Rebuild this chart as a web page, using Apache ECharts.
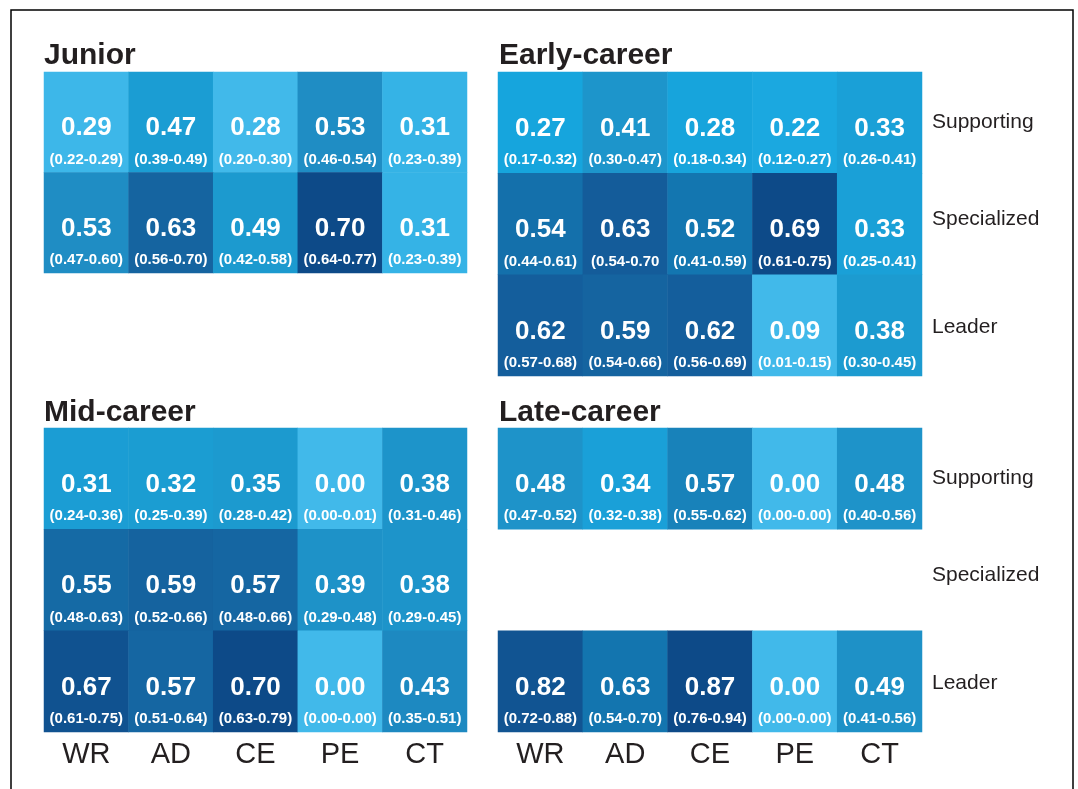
<!DOCTYPE html>
<html>
<head>
<meta charset="utf-8">
<script src="https://cdn.jsdelivr.net/npm/echarts@6/dist/echarts.min.js"></script>
<style>
html,body{margin:0;padding:0;background:#fff;}
#chart{width:1078px;height:789px;}
</style>
</head>
<body>
<div id="chart"></div>
<script>
const columns = ['WR', 'AD', 'CE', 'PE', 'CT'];
const roles = ['Supporting', 'Specialized', 'Leader'];
const panelTitles = ['Junior', 'Early-career', 'Mid-career', 'Late-career'];

// values per role row (null = no data)
const juniorValues = [
  [0.29, 0.47, 0.28, 0.53, 0.31],
  [0.53, 0.63, 0.49, 0.70, 0.31]
];
const juniorCI = [
  ['(0.22-0.29)', '(0.39-0.49)', '(0.20-0.30)', '(0.46-0.54)', '(0.23-0.39)'],
  ['(0.47-0.60)', '(0.56-0.70)', '(0.42-0.58)', '(0.64-0.77)', '(0.23-0.39)']
];
const earlyValues = [
  [0.27, 0.41, 0.28, 0.22, 0.33],
  [0.54, 0.63, 0.52, 0.69, 0.33],
  [0.62, 0.59, 0.62, 0.09, 0.38]
];
const earlyCI = [
  ['(0.17-0.32)', '(0.30-0.47)', '(0.18-0.34)', '(0.12-0.27)', '(0.26-0.41)'],
  ['(0.44-0.61)', '(0.54-0.70', '(0.41-0.59)', '(0.61-0.75)', '(0.25-0.41)'],
  ['(0.57-0.68)', '(0.54-0.66)', '(0.56-0.69)', '(0.01-0.15)', '(0.30-0.45)']
];
const midValues = [
  [0.31, 0.32, 0.35, 0.00, 0.38],
  [0.55, 0.59, 0.57, 0.39, 0.38],
  [0.67, 0.57, 0.70, 0.00, 0.43]
];
const midCI = [
  ['(0.24-0.36)', '(0.25-0.39)', '(0.28-0.42)', '(0.00-0.01)', '(0.31-0.46)'],
  ['(0.48-0.63)', '(0.52-0.66)', '(0.48-0.66)', '(0.29-0.48)', '(0.29-0.45)'],
  ['(0.61-0.75)', '(0.51-0.64)', '(0.63-0.79)', '(0.00-0.00)', '(0.35-0.51)']
];
const lateValues = [
  [0.48, 0.34, 0.57, 0.00, 0.48],
  null,
  [0.82, 0.63, 0.87, 0.00, 0.49]
];
const lateCI = [
  ['(0.47-0.52)', '(0.32-0.38)', '(0.55-0.62)', '(0.00-0.00)', '(0.40-0.56)'],
  null,
  ['(0.72-0.88)', '(0.54-0.70)', '(0.76-0.94)', '(0.00-0.00)', '(0.41-0.56)']
];

const panels = [
  { values: juniorValues, ci: juniorCI, rows: roles.slice(0, 2) },
  { values: earlyValues, ci: earlyCI, rows: roles },
  { values: midValues, ci: midCI, rows: roles },
  { values: lateValues, ci: lateCI, rows: roles }
];

const palette = ['#41B9EA', '#30B1E4', '#1CA8E0', '#16A5DD', '#1AA0D7', '#1C9ACF',
                 '#1F8CC3', '#1279B3', '#1568A3', '#145C9A', '#0D4A88'];
const FONT = '"Liberation Sans", Arial, Helvetica, sans-serif';
const TXT = '#231F20';

const grids = [
  { left: 44, top: 72, width: 423, height: 201 },
  { left: 498, top: 72, width: 424, height: 304 },
  { left: 44, top: 428, width: 423, height: 304 },
  { left: 498, top: 428, width: 424, height: 304 }
];
const titlePos = [[44, 41], [499, 41], [44, 398], [499, 398]];

function buildData(p) {
  const out = [];
  p.values.forEach((row, r) => {
    if (!row) return;
    row.forEach((v, c) => out.push([c, r, v, p.ci[r][c]]));
  });
  return out;
}

const seriesData = panels.map(buildData);

const option = {
  backgroundColor: '#fff',
  animation: false,
  title: panelTitles.map((t, i) => ({
    text: t, left: titlePos[i][0], top: titlePos[i][1], padding: 0,
    textStyle: { fontSize: 30, fontWeight: 'bold', color: TXT, fontFamily: FONT }
  })),
  grid: grids,
  xAxis: grids.map((g, i) => ({
    type: 'category', gridIndex: i, data: columns,
    axisLine: { show: false }, axisTick: { show: false }, splitLine: { show: false },
    axisLabel: { show: i >= 2, fontSize: 29, color: TXT, fontFamily: FONT, margin: 8 }
  })),
  yAxis: grids.map((g, i) => ({
    type: 'category', gridIndex: i, data: panels[i].rows, inverse: true,
    position: 'right',
    axisLine: { show: false }, axisTick: { show: false }, splitLine: { show: false },
    axisLabel: {
      show: i === 1 || i === 3, fontSize: 21, color: TXT, fontFamily: FONT, margin: 10,
      formatter: (v) => v === 'Specialized' ? '{up|' + v + '}' : (v === 'Leader' ? '{dn|' + v + '}' : '{n|' + v + '}'),
      rich: {
        n: { fontSize: 21, color: TXT, fontFamily: FONT },
        up: { fontSize: 21, color: TXT, fontFamily: FONT, padding: [0, 0, 10, 0] },
        dn: { fontSize: 21, color: TXT, fontFamily: FONT, padding: [4, 0, 0, 0] }
      }
    }
  })),
  visualMap: seriesData.map((d, i) => {
    const vals = d.map(x => x[2]);
    return {
      type: 'continuous', show: false, seriesIndex: i, dimension: 2,
      min: Math.min(...vals), max: Math.max(...vals),
      inRange: { color: palette }
    };
  }),
  series: seriesData.map((d, i) => ({
    type: 'heatmap', xAxisIndex: i, yAxisIndex: i, data: d,
    itemStyle: { borderWidth: 0 },
    emphasis: { disabled: true },
    label: {
      show: true, color: '#fff', fontFamily: FONT, offset: [0, 21],
      formatter: (p) => '{v|' + p.data[2].toFixed(2) + '}\n{c|' + p.data[3] + '}',
      rich: {
        v: { fontSize: 26, fontWeight: 'bold', color: '#fff', fontFamily: FONT, lineHeight: 33 },
        c: { fontSize: 15, fontWeight: 'bold', color: '#fff', fontFamily: FONT, lineHeight: 30 }
      }
    }
  })),
  graphic: [{
    type: 'rect', silent: true, z: 100,
    shape: { x: 11, y: 10, width: 1062, height: 800 },
    style: { fill: 'none', stroke: '#000', lineWidth: 1.5 }
  }]
};

const chart = echarts.init(document.getElementById('chart'), null, { renderer: 'canvas' });
chart.setOption(option);
</script>
</body>
</html>
